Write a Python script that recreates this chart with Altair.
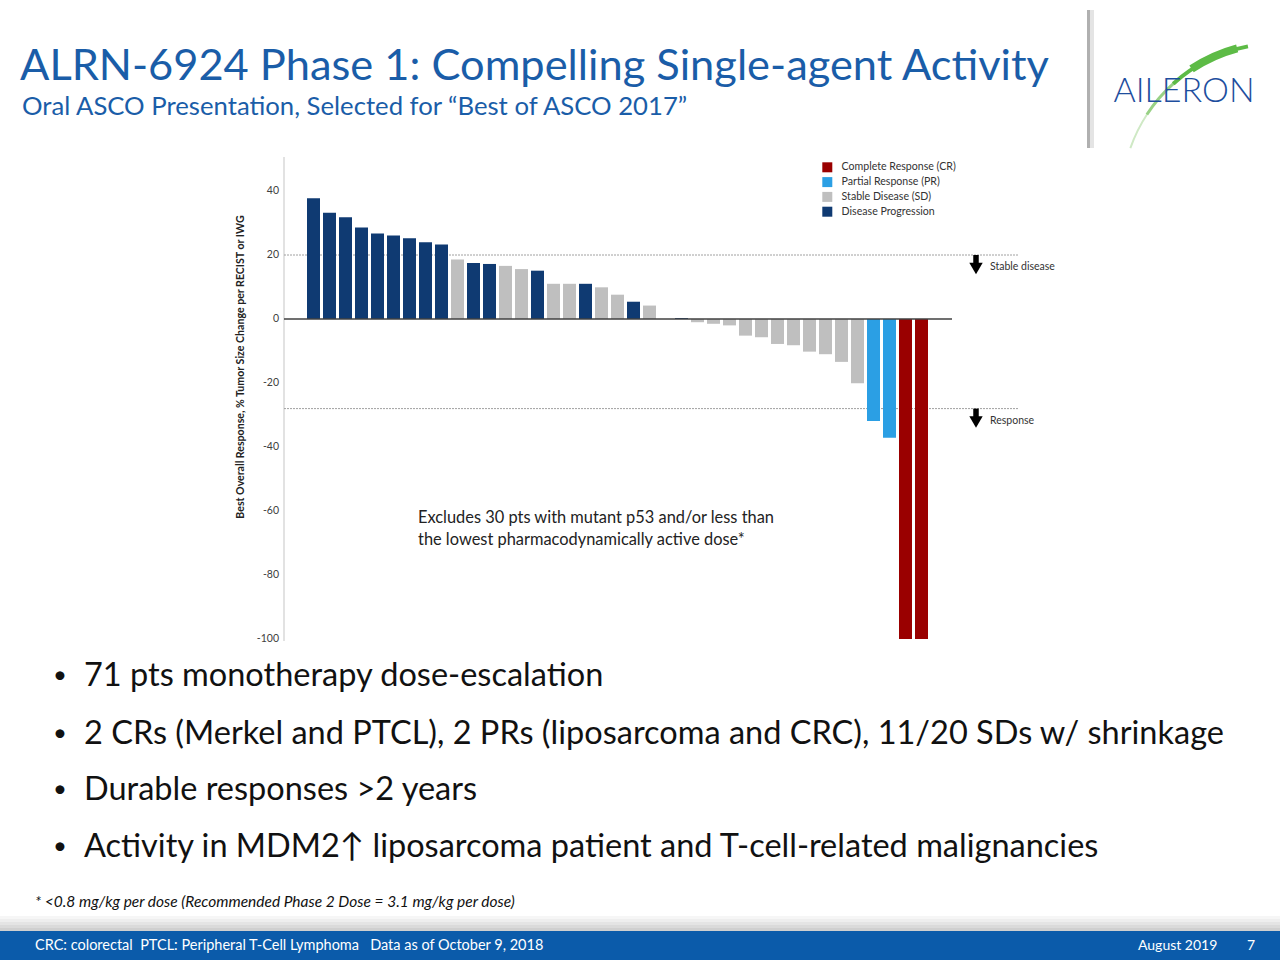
import altair as alt
import pandas as pd

# ---------------- data ----------------
BAR_VALUES = [37.7, 33.2, 31.8, 28.6, 26.7, 26.1, 25.2, 24.0, 23.3, 18.6,
              17.5, 17.2, 16.6, 15.6, 15.1, 11.0, 11.0, 11.0, 9.9, 7.6,
              5.4, 4.2, 0.0, 0.3, -1.0, -1.5, -2.0, -5.2, -5.7, -7.8,
              -8.2, -10.2, -11.0, -13.4, -20.1, -31.9, -37.1, -100.0, -100.0]
PD, SD, PR, CR = "Disease Progression", "Stable Disease (SD)", "Partial Response (PR)", "Complete Response (CR)"
BAR_RESPONSE = [PD] * 9 + [SD, PD, PD, SD, SD, PD, SD, SD, PD, SD, SD, PD, SD, SD, PD] + [SD] * 11 + [PR, PR, CR, CR]
LEGEND_LABELS = [CR, PR, SD, PD]
LEGEND_COLORS = ["#9A0000", "#2B9FE4", "#BFBFBF", "#0F3A72"]
Y_TICKS = [40, 20, 0, -20, -40, -60, -80, -100]
Y_TICK_LABELS = ["40", "20", "0", "-20", "-40", "-60", "-80", "-100"]
THRESHOLDS = [20, -28]
THRESHOLD_LABELS = ["Stable disease", "Response"]

TITLE = "ALRN-6924 Phase 1: Compelling Single-agent Activity"
SUBTITLE = "Oral ASCO Presentation, Selected for \u201cBest of ASCO 2017\u201d"
Y_TITLE = "Best Overall Response, % Tumor Size Change per RECIST or IWG"
NOTE = ["Excludes 30 pts with mutant p53 and/or less than",
        "the lowest pharmacodynamically active dose*"]
BULLETS = ["71 pts monotherapy dose-escalation",
           "2 CRs (Merkel and PTCL), 2 PRs (liposarcoma and CRC), 11/20 SDs w/ shrinkage",
           "Durable responses >2 years",
           "Activity in MDM2\u2191 liposarcoma patient and T-cell-related malignancies"]
FOOTNOTE = "* <0.8 mg/kg per dose (Recommended Phase 2 Dose = 3.1 mg/kg per dose)"
FOOTER_LEFT = "CRC: colorectal\u00a0\u00a0PTCL: Peripheral T-Cell Lymphoma\u00a0\u00a0\u00a0Data as of October 9, 2018"
FOOTER_DATE = "August 2019"
FOOTER_PAGE = "7"
LOGO = "AILERON"

FONT = "Lato"
BLUE = "#1A5DA8"

bars = pd.DataFrame({"idx": list(range(len(BAR_VALUES))), "value": BAR_VALUES, "resp": BAR_RESPONSE})

# canvas is the plot area: 3.2 px per % unit, zero at y=319; 16 px per bar, first bar centre at x=313.5
yscale = alt.Scale(domain=[-200.3125, 99.6875], nice=False, zero=False)
xscale = alt.Scale(domain=[-19.59375, 60.40625], nice=False, zero=False)


def txt(s, x, y, size, color="#111111", weight="normal", align="left", baseline="middle", style="normal", angle=0, font=FONT):
    return alt.Chart(pd.DataFrame({"t": [s]})).mark_text(
        font=font, fontSize=size, color=color, fontWeight=weight, align=align,
        baseline=baseline, fontStyle=style, angle=angle
    ).encode(x=alt.value(x), y=alt.value(y), text="t:N")


def box(x, x2, y, y2, color):
    return alt.Chart(pd.DataFrame({"a": [0]})).mark_rect(color=color).encode(
        x=alt.value(x), x2=alt.value(x2), y=alt.value(y), y2=alt.value(y2))


def arc(r, r2, t, t2, color):
    return alt.Chart(pd.DataFrame({"a": [0]})).mark_arc(
        color=color, radius=r, radius2=r2, theta=t, theta2=t2
    ).encode(x=alt.value(1278), y=alt.value(200))


layers = []

# footer shadow + bar
for k, c in enumerate(["#f6f6f6", "#eeeeee", "#e4e4e4", "#dadada", "#cfcfcf"]):
    layers.append(box(0, 1280, 916 + 3 * k, 919 + 3 * k, c))
layers.append(box(0, 1280, 931, 960, "#0B5BAA"))

# logo separator + swoosh
layers.append(box(1087, 1090, 10, 148, "#b0b0b0"))
layers.append(box(1090, 1094, 10, 148, "#e4e4e4"))
layers.append(arc(157.5, 155.5, 5.05, 5.3, "#cfe9c5"))
layers.append(arc(158, 155, 5.29, 5.56, "#98d185"))
layers.append(arc(158.5, 154.5, 5.55, 6.09, "#5DBB46"))
layers.append(arc(161, 153, 5.7, 6.02, "#5DBB46"))
layers.append(txt(LOGO, 1184, 92, 34, color="#1E4E9E", weight=300, align="center"))

# titles
layers.append(txt(TITLE, 20, 80, 43.4, color=BLUE, baseline="alphabetic"))
layers.append(txt(SUBTITLE, 22, 115, 25.7, color=BLUE, baseline="alphabetic"))

# y axis line
layers.append(alt.Chart(pd.DataFrame({"a": [0]})).mark_rule(color="#D9D9D9", strokeWidth=1.5).encode(
    x=alt.value(284), y=alt.value(157), y2=alt.value(641)))

# threshold lines
thr = pd.DataFrame({"v": THRESHOLDS, "lab": THRESHOLD_LABELS})
layers.append(alt.Chart(thr).mark_rule(color="#A0A0A0", strokeWidth=1, strokeDash=[2, 1]).encode(
    y=alt.Y("v:Q", scale=yscale, axis=None), x=alt.value(284), x2=alt.value(1018)))
layers.append(alt.Chart(thr).transform_calculate(s0="datum.v", s1="datum.v - 2.8").mark_rule(
    color="#000000", strokeWidth=5.5).encode(
    y=alt.Y("s0:Q", scale=yscale, axis=None), y2="s1:Q", x=alt.value(976)))
layers.append(alt.Chart(thr).transform_calculate(t="datum.v - 4.2").mark_point(
    shape="triangle-down", filled=True, color="#000000", size=180, opacity=1, strokeWidth=0
).encode(y=alt.Y("t:Q", scale=yscale, axis=None), x=alt.value(976)))
layers.append(alt.Chart(thr).mark_text(font=FONT, fontSize=10.5, color="#333333", align="left",
                                       baseline="middle", dy=12).encode(
    y=alt.Y("v:Q", scale=yscale, axis=None), x=alt.value(990), text="lab:N"))

# bars
layers.append(alt.Chart(bars).transform_calculate(
    x0="datum.idx - 0.40625", x1="datum.idx + 0.40625", base="0").mark_bar().encode(
    x=alt.X("x0:Q", scale=xscale, axis=None),
    x2="x1:Q",
    y=alt.Y("value:Q", scale=yscale, axis=None),
    y2="base:Q",
    color=alt.Color("resp:N", scale=alt.Scale(domain=LEGEND_LABELS, range=LEGEND_COLORS),
                    legend=alt.Legend(orient="none", legendX=822, legendY=162, title=None,
                                      symbolType="square", symbolSize=100, symbolStrokeWidth=0,
                                      labelFont=FONT, labelFontSize=10.6, labelColor="#333333",
                                      rowPadding=3.8, labelOffset=9)),
))

# zero line
layers.append(alt.Chart(pd.DataFrame({"z": [0]})).mark_rule(color="#404040", strokeWidth=1.3).encode(
    y=alt.Y("z:Q", scale=yscale, axis=None), x=alt.value(284), x2=alt.value(952)))

# tick labels
layers.append(alt.Chart(pd.DataFrame({"tick": Y_TICKS, "lab": Y_TICK_LABELS})).mark_text(
    font=FONT, fontSize=10.5, color="#404040", align="right", baseline="middle").encode(
    y=alt.Y("tick:Q", scale=yscale, axis=None), x=alt.value(279), text="lab:N"))

# y title
layers.append(txt(Y_TITLE, 241, 367, 10.6, color="#222222", weight="bold", align="center", angle=270))

# annotation
layers.append(txt(NOTE[0], 418, 518, 16.4, color="#222222"))
layers.append(txt(NOTE[1], 418, 540, 16.4, color="#222222"))

# bullets
for b, y in zip(BULLETS, [676, 734, 790, 847]):
    layers.append(txt("\u2022", 53, y, 24))
    layers.append(txt(b, 84, y, 32.5))

layers.append(txt(FOOTNOTE, 35, 902, 15.5, style="italic"))
layers.append(txt(FOOTER_LEFT, 35, 946, 14.5, color="#ffffff"))
layers.append(txt(FOOTER_DATE, 1138, 946, 14, color="#ffffff"))
layers.append(txt(FOOTER_PAGE, 1247, 946, 14, color="#ffffff"))

chart = alt.layer(*layers).properties(
    width=1280, height=960, padding=0, autosize=alt.AutoSizeParams(type="none"), background="white"
).configure_view(stroke=None)

chart.save("out.html", embed_options={"renderer": "svg", "actions": False})
